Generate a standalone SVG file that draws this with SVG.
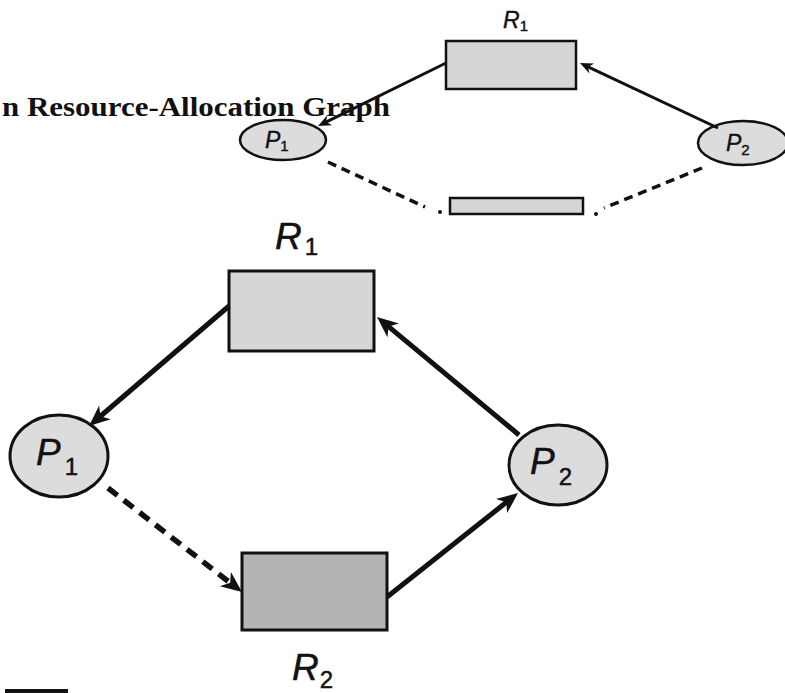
<svg xmlns="http://www.w3.org/2000/svg" width="785" height="693" viewBox="0 0 785 693">
<style>
.lbl{font-family:"Liberation Sans",Arial,sans-serif;font-style:italic;fill:#111}
.sub{font-style:normal}
.head{font-family:"Liberation Serif","Times New Roman",serif;font-weight:bold;fill:#111}
.proc{fill:#dcdcdc;stroke:#111}
.res1{fill:#d6d6d6;stroke:#111}
.res2{fill:#b4b4b4;stroke:#111}
.edge{stroke:#111;fill:none;stroke-linecap:butt}
</style>
<defs>
<marker id="arrowL" viewBox="-22 -10 24 20" refX="-10" refY="0" markerWidth="24" markerHeight="20" markerUnits="userSpaceOnUse" orient="auto">
<path d="M0,0 L-21,-9 L-15,0 L-21,9 Z" fill="#111"/>
</marker>
<marker id="arrowS" viewBox="-14 -7 16 14" refX="-6" refY="0" markerWidth="16" markerHeight="14" markerUnits="userSpaceOnUse" orient="auto">
<path d="M0,0 L-13,-5.5 L-9,0 L-13,5.5 Z" fill="#111"/>
</marker>
</defs>
<rect x="0" y="0" width="785" height="693" fill="#ffffff"/>

<text class="head" x="2" y="116" font-size="28" textLength="388" lengthAdjust="spacingAndGlyphs">n Resource-Allocation Graph</text>

<g id="small-R1">
<rect class="res1" x="446" y="41" width="130" height="48" stroke-width="2.5"/>
<text class="lbl" x="503" y="28" font-size="23" stroke="#111" stroke-width="0.4">R<tspan class="sub" font-size="15" dy="3">1</tspan></text>
</g>
<g id="small-P1">
<ellipse class="proc" cx="283" cy="140" rx="43" ry="20" stroke-width="2.5"/>
<text class="lbl" x="265" y="148" font-size="23" stroke="#111" stroke-width="0.4">P<tspan class="sub" font-size="15" dy="3">1</tspan></text>
</g>
<g id="small-P2">
<ellipse class="proc" cx="743" cy="143" rx="45" ry="22" stroke-width="2.5"/>
<text class="lbl" x="726" y="151" font-size="23" stroke="#111" stroke-width="0.4">P<tspan class="sub" font-size="15" dy="4">2</tspan></text>
</g>
<g id="small-R2">
<rect class="res1" x="450" y="198" width="133" height="16" stroke-width="2.5"/>
</g>

<g id="R1">
<rect class="res1" x="229" y="271" width="145" height="80" stroke-width="3"/>
<text class="lbl" x="275" y="249" font-size="37" stroke="#111" stroke-width="0.5">R<tspan class="sub" font-size="24" dx="3" dy="6">1</tspan></text>
</g>
<g id="P1">
<ellipse class="proc" cx="59" cy="456" rx="49" ry="41" stroke-width="3"/>
<text class="lbl" x="36" y="465" font-size="37" stroke="#111" stroke-width="0.5">P<tspan class="sub" font-size="24" dx="4" dy="10">1</tspan></text>
</g>
<g id="P2">
<ellipse class="proc" cx="558" cy="465" rx="49" ry="40" stroke-width="3"/>
<text class="lbl" x="530" y="474" font-size="37" stroke="#111" stroke-width="0.5">P<tspan class="sub" font-size="24" dx="4" dy="11">2</tspan></text>
</g>
<g id="R2">
<rect class="res2" x="242" y="553" width="145" height="77" stroke-width="3"/>
<text class="lbl" x="292" y="680" font-size="37" stroke="#111" stroke-width="0.5">R<tspan class="sub" font-size="24" dx="1" dy="8">2</tspan></text>
</g>

<g id="connectors">
<line class="edge" x1="446" y1="63" x2="323.4" y2="123.4" stroke-width="3" marker-end="url(#arrowS)"/>
<line class="edge" x1="718" y1="128" x2="585.4" y2="65.6" stroke-width="3" marker-end="url(#arrowS)"/>
<line class="edge" x1="328" y1="162" x2="425" y2="207" stroke-width="3.5" stroke-dasharray="9,6"/>
<circle cx="440" cy="212" r="2" fill="#111"/>
<line class="edge" x1="702" y1="168" x2="604" y2="208" stroke-width="3.5" stroke-dasharray="9,6"/>
<circle cx="596" cy="214" r="2" fill="#111"/>

<line class="edge" x1="229" y1="306" x2="96.6" y2="419.5" stroke-width="5" marker-end="url(#arrowL)"/>
<line class="edge" x1="519" y1="435" x2="384.7" y2="323.4" stroke-width="5" marker-end="url(#arrowL)"/>
<line class="edge" x1="108" y1="488" x2="234.1" y2="585.9" stroke-width="5.5" stroke-dasharray="12,8" marker-end="url(#arrowL)"/>
<line class="edge" x1="387" y1="597" x2="510.2" y2="499.2" stroke-width="5" marker-end="url(#arrowL)"/>
</g>

<rect x="5" y="689" width="63" height="4" fill="#111"/>
</svg>
